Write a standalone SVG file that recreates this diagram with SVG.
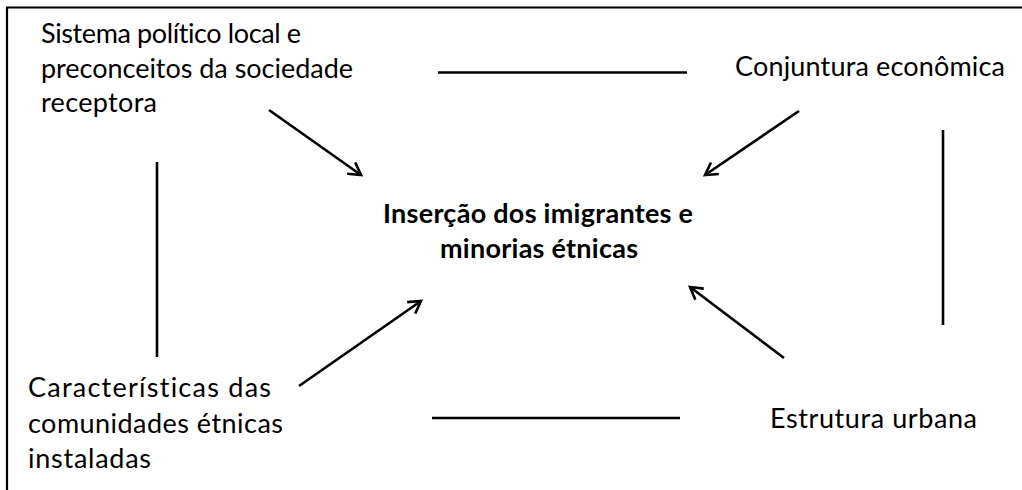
<svg xmlns="http://www.w3.org/2000/svg" width="1022" height="490" viewBox="0 0 1022 490">
<style>
.t{font-family:Lato,"Liberation Sans",sans-serif;font-size:27px;fill:#000;font-variant-ligatures:none;font-feature-settings:"liga" 0}
.b{font-weight:bold;text-anchor:middle}
.c{stroke:#000;stroke-width:2.6;fill:none;stroke-linecap:butt}
</style>
<defs>
<marker id="ah" markerUnits="userSpaceOnUse" markerWidth="24" markerHeight="24" refX="14" refY="10" orient="auto">
<path d="M2,3 L14,10 L2,17" fill="none" stroke="#000" stroke-width="2.6"/>
</marker>
</defs>
<rect width="1022" height="490" fill="#fff"/>
<path d="M7,490 V7.5 H1022" fill="none" stroke="#000" stroke-width="2.2"/>
<g id="connectors">
<line class="c" x1="438" y1="72.5" x2="687" y2="72.5"/>
<line class="c" x1="432" y1="418" x2="680" y2="418"/>
<line class="c" x1="157" y1="162" x2="157" y2="357"/>
<line class="c" x1="943" y1="130" x2="943" y2="325"/>
<line class="c" x1="269" y1="110" x2="361" y2="175" marker-end="url(#ah)"/>
<line class="c" x1="799" y1="111" x2="705" y2="175" marker-end="url(#ah)"/>
<line class="c" x1="299" y1="386" x2="421" y2="301" marker-end="url(#ah)"/>
<line class="c" x1="784" y1="358" x2="690" y2="287" marker-end="url(#ah)"/>
</g>
<g id="n-sistema">
<text class="t" x="41" y="43" textLength="260" lengthAdjust="spacing">Sistema político local e</text>
<text class="t" x="41" y="78" textLength="312" lengthAdjust="spacing">preconceitos da sociedade</text>
<text class="t" x="41" y="112" textLength="116" lengthAdjust="spacing">receptora</text>
</g>
<g id="n-conjuntura">
<text class="t" x="735" y="76" textLength="270" lengthAdjust="spacing">Conjuntura econômica</text>
</g>
<g id="n-insercao">
<text class="t b" x="538" y="223" textLength="310" lengthAdjust="spacing">Inserção dos imigrantes e</text>
<text class="t b" x="539" y="258" textLength="198" lengthAdjust="spacing">minorias étnicas</text>
</g>
<g id="n-caracteristicas">
<text class="t" x="28" y="397" textLength="243" lengthAdjust="spacing">Características das</text>
<text class="t" x="28" y="433" textLength="255" lengthAdjust="spacing">comunidades étnicas</text>
<text class="t" x="28" y="468" textLength="123" lengthAdjust="spacing">instaladas</text>
</g>
<g id="n-estrutura">
<text class="t" x="770" y="428" textLength="207" lengthAdjust="spacing">Estrutura urbana</text>
</g>
</svg>
